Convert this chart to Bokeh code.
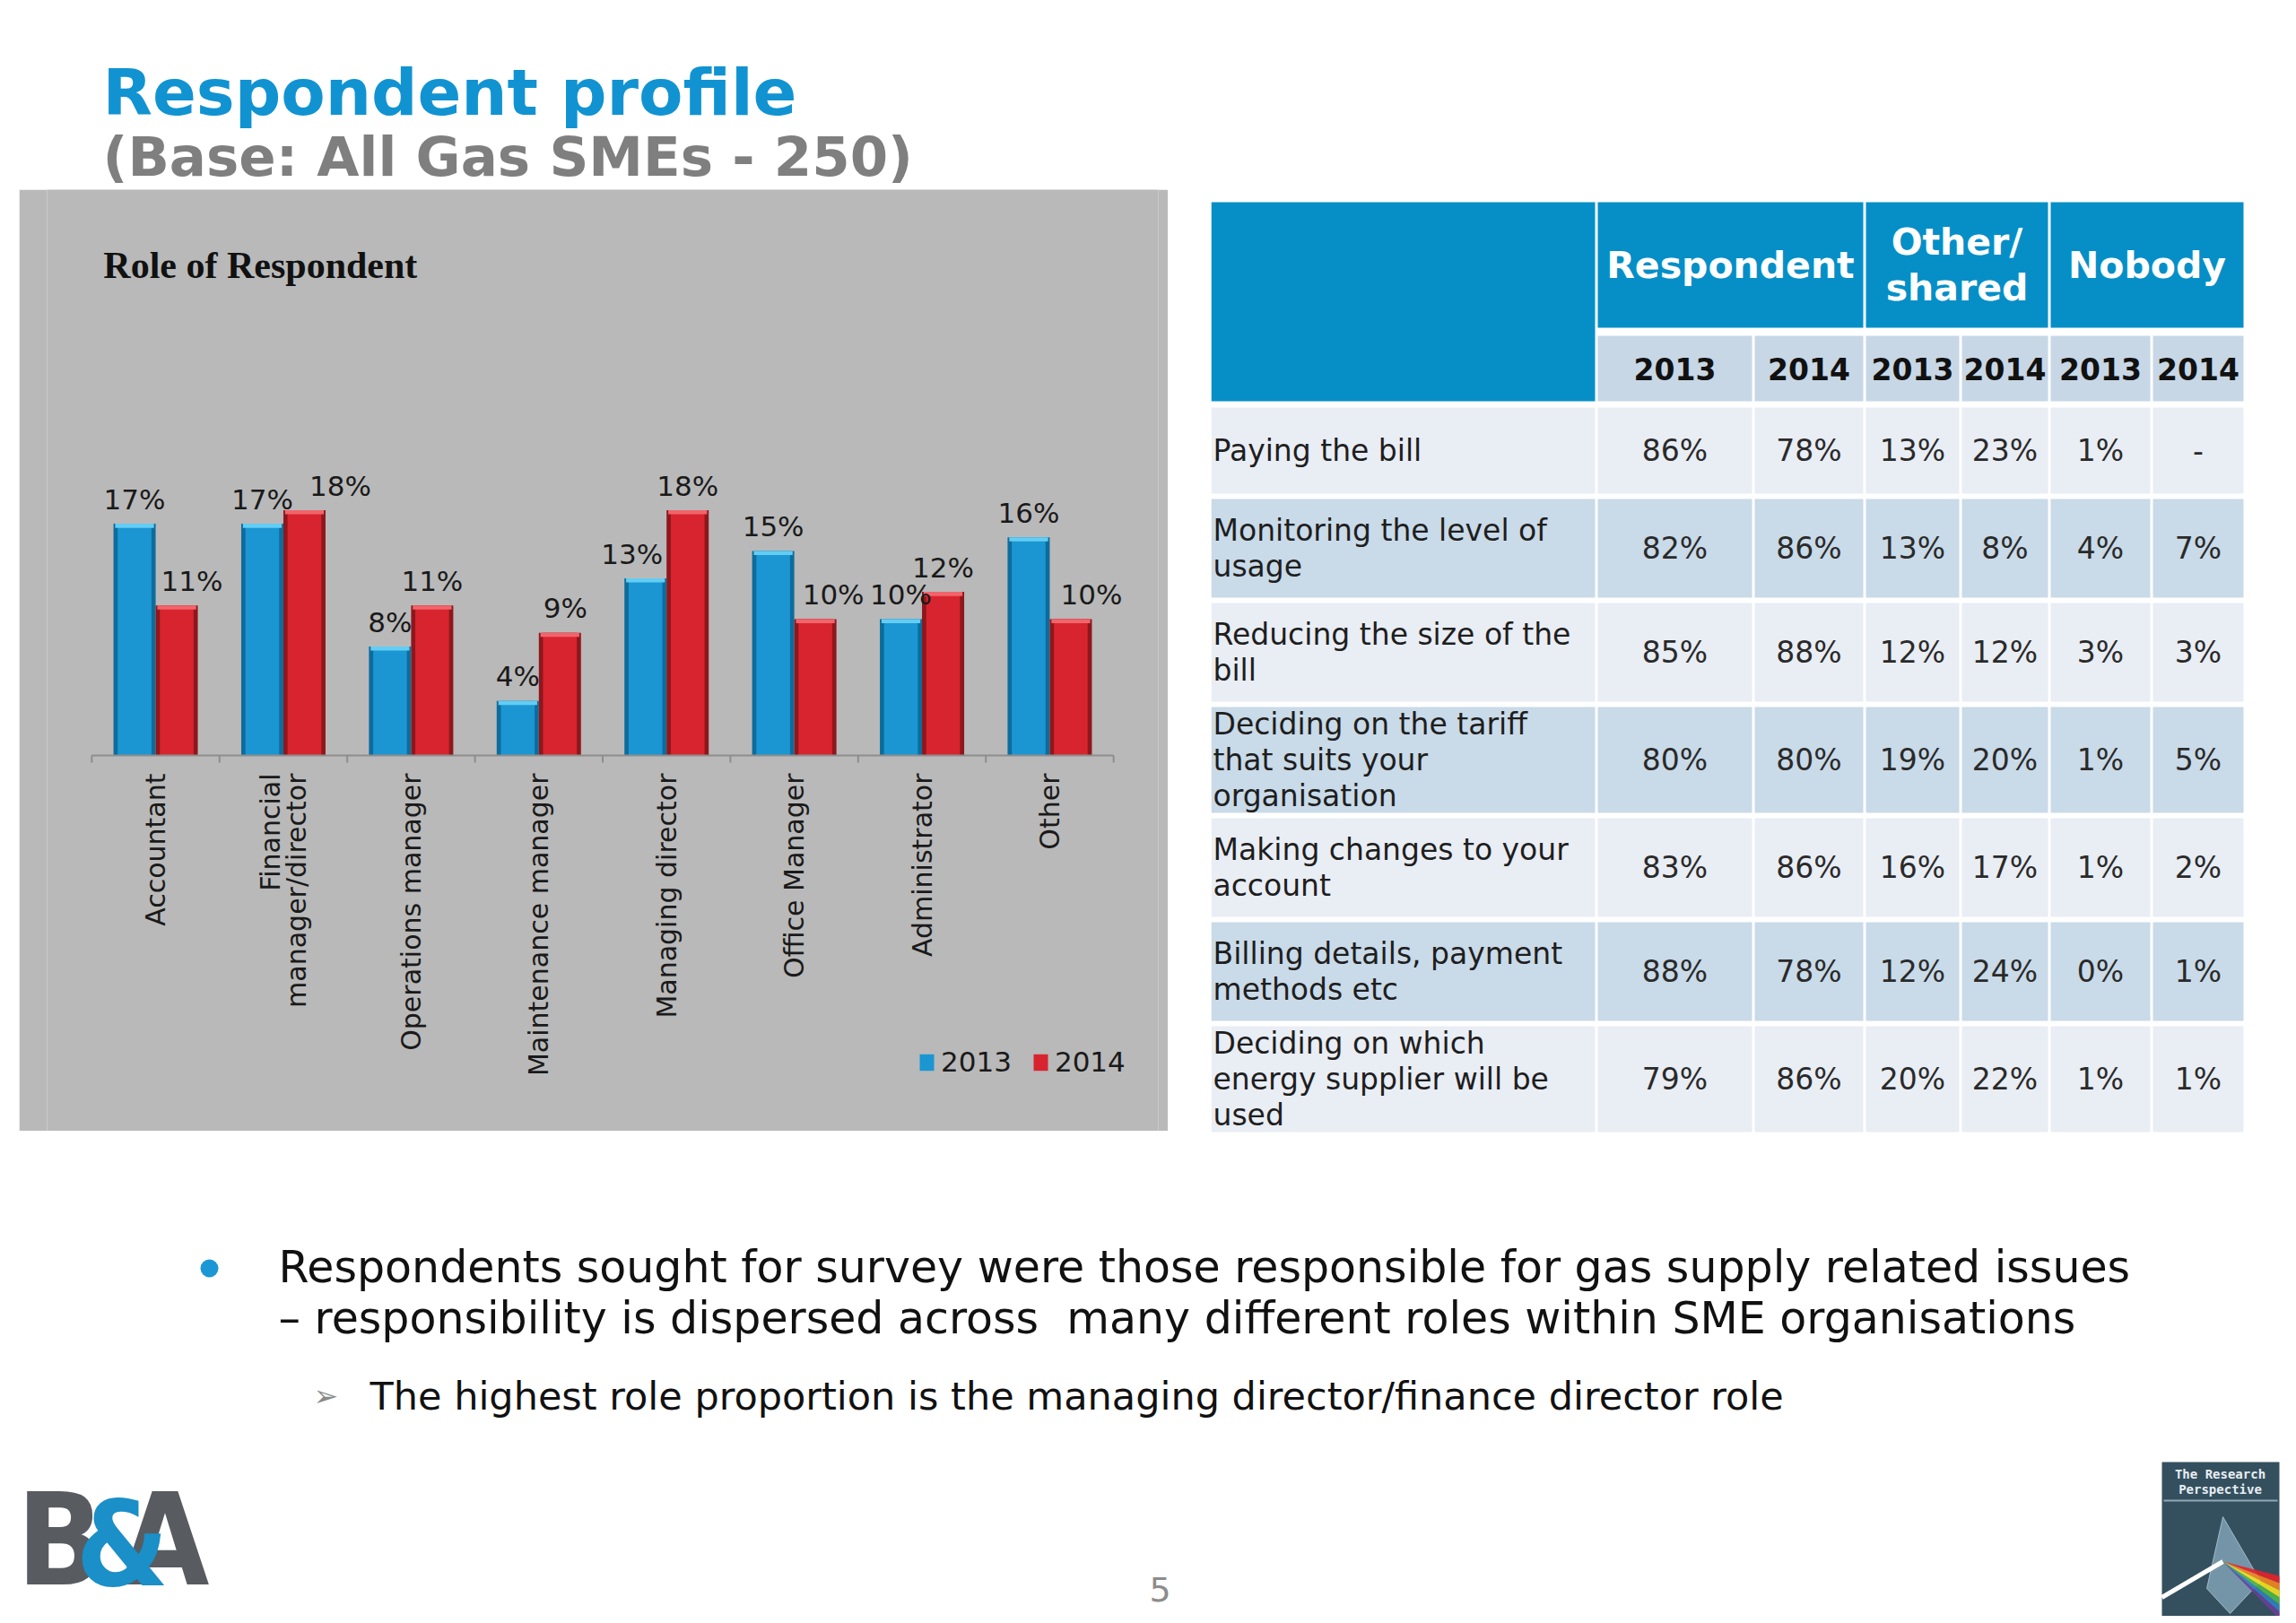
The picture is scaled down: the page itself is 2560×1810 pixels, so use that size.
from math import pi
import numpy as np
from bokeh.plotting import figure
from bokeh.models import (ColumnDataSource, Range1d, FactorRange, Legend, LegendItem, Spacer)
from bokeh.layouts import column, row
from bokeh.transform import dodge
from bokeh.core.properties import value
from bokeh.embed import file_html
from bokeh.resources import INLINE

# ---------------- data ----------------
roles = ["Accountant", "Financial\nmanager/director", "Operations manager",
         "Maintenance manager", "Managing director", "Office Manager",
         "Administrator", "Other"]
share_2013 = [17, 17, 8, 4, 13, 15, 10, 16]
share_2014 = [11, 18, 11, 9, 18, 10, 12, 10]
series_names = ["2013", "2014"]

table_rows = ["Paying the bill",
              "Monitoring the level of\nusage",
              "Reducing the size of the\nbill",
              "Deciding on the tariff\nthat suits your\norganisation",
              "Making changes to your\naccount",
              "Billing details, payment\nmethods etc",
              "Deciding on which\nenergy supplier will be\nused"]
table_groups = ["Respondent", "Other/\nshared", "Nobody"]
table_years = ["2013", "2014"]
respondent_2013 = ["86%", "82%", "85%", "80%", "83%", "88%", "79%"]
respondent_2014 = ["78%", "86%", "88%", "80%", "86%", "78%", "86%"]
other_2013 = ["13%", "13%", "12%", "19%", "16%", "12%", "20%"]
other_2014 = ["23%", "8%", "12%", "20%", "17%", "24%", "22%"]
nobody_2013 = ["1%", "4%", "3%", "1%", "1%", "0%", "1%"]
nobody_2014 = ["-", "7%", "3%", "5%", "2%", "1%", "1%"]

title_text = "Respondent profile"
subtitle_text = "(Base: All Gas SMEs - 250)"
chart_title = "Role of Respondent"
bullet_1 = "Respondents sought for survey were those responsible for gas supply related issues"
bullet_2 = "\u2013 responsibility is dispersed across\u00a0 many different roles within SME organisations"
sub_bullet = "The highest role proportion is the managing director/finance director role"
page_no = "5"

# label nudges (screen px) that the original chart used to avoid overlaps
nudge_2013 = [0, 0, 0, 0, -15, 0, 0, 0]
nudge_2014 = [17, 40, 0, 6, 0, 20, 0, 23]

# ---------------- styles ----------------
FONT = "DejaVu Sans"
BLUE = "#1b96d2"
BLUE_D = "#0d6c9c"
BLUE_L = "#63cdf3"
RED = "#d8242e"
RED_D = "#8e171d"
RED_L = "#f2646b"
PANEL = "#b9b9b9"
HEAD_BLUE = "#068fc7"
YEAR_BG = "#c7d7e6"
ROW_LIGHT = "#e9edf4"
ROW_DARK = "#c9dae8"

PAGE_W = 2552


def blank(w, h, **kw):
    f = figure(width=w, height=h, x_range=Range1d(0, w), y_range=Range1d(h, 0),
               x_axis_type=None, y_axis_type=None, output_backend="svg",
               toolbar_location=None, min_border=0, **kw)
    f.grid.visible = False
    f.outline_line_color = None
    return f


# ---------------- header ----------------
HH = 211
header = blank(PAGE_W, HH)
header.text(x=[114], y=[102], text=[title_text], text_font=value(FONT), text_font_style="bold",
            text_font_size="72px", text_color="#1193d2", text_baseline="middle")
header.text(x=[114], y=[174], text=[subtitle_text], text_font=value(FONT), text_font_style="bold",
            text_font_size="61px", text_color="#7f7f7f", text_baseline="middle")

# ---------------- bar chart ----------------
CW, CH = 1281, 1050
AXIS_PX = 631          # pixel row of the 0% line inside the panel
PX_PER_PCT = 15.2
cp = figure(width=CW, height=CH,
            x_range=FactorRange(factors=roles, range_padding=0.0875),
            y_range=Range1d(-(CH - AXIS_PX) / PX_PER_PCT, AXIS_PX / PX_PER_PCT),
            x_axis_type=None, y_axis_type=None,
            output_backend="svg", toolbar_location=None,
            min_border_left=31, min_border_right=11, min_border_top=0, min_border_bottom=0)
cp.background_fill_color = PANEL
cp.border_fill_color = PANEL
cp.outline_line_color = None
cp.grid.visible = False

src = ColumnDataSource(dict(
    role=roles, v13=share_2013, v14=share_2014,
    cap13=list(np.array(share_2013) - 0.3), cap14=list(np.array(share_2014) - 0.3),
    ly13=list(np.array(share_2013) + 1.8), ly14=list(np.array(share_2014) + 1.8),
    t13=[f"{v}%" for v in share_2013], t14=[f"{v}%" for v in share_2014],
    n13=nudge_2013, n14=nudge_2014,
))

D = 0.165
W = 0.33
x13 = dodge("role", -D, range=cp.x_range)
x14 = dodge("role", D, range=cp.x_range)
cp.vbar(x=x13, top="v13", bottom=0, width=W, fill_color=BLUE_D, line_color=None, source=src)
r13 = cp.vbar(x=x13, top="v13", bottom=0, width=W * 0.8, fill_color=BLUE, line_color=None, source=src)
cp.vbar(x=x13, top="v13", bottom="cap13", width=W * 0.92, fill_color=BLUE_L, line_color=None, source=src)
cp.vbar(x=x14, top="v14", bottom=0, width=W, fill_color=RED_D, line_color=None, source=src)
r14 = cp.vbar(x=x14, top="v14", bottom=0, width=W * 0.8, fill_color=RED, line_color=None, source=src)
cp.vbar(x=x14, top="v14", bottom="cap14", width=W * 0.92, fill_color=RED_L, line_color=None, source=src)

cp.text(x=x13, y="ly13", text="t13", x_offset="n13", source=src, text_font=value(FONT),
        text_font_size="31px", text_color="#1a1a1a", text_align="center", text_baseline="middle")
cp.text(x=x14, y="ly14", text="t14", x_offset="n14", source=src, text_font=value(FONT),
        text_font_size="31px", text_color="#1a1a1a", text_align="center", text_baseline="middle")

# category axis: base line, boundary ticks and vertical category labels
n_cat = len(roles)
edges = list(range(n_cat + 1))
cp.segment(x0=[0], y0=[0], x1=[n_cat], y1=[0], line_color="#8d8d8d", line_width=2)
cp.segment(x0=edges, y0=[0] * len(edges), x1=edges, y1=[-8 / PX_PER_PCT] * len(edges),
           line_color="#8d8d8d", line_width=2)
cp.text(x=roles, y=[-20 / PX_PER_PCT] * n_cat, text=roles, angle=pi / 2,
        text_font=value(FONT), text_font_size="30px", text_color="#1a1a1a",
        text_align="right", text_baseline="middle", text_line_height=0.84)

# chart title
cp.text(x=[13 / 142.4], y=[(AXIS_PX - 84) / PX_PER_PCT], text=[chart_title],
        text_font=value("Liberation Serif"), text_font_style="bold", text_font_size="42px",
        text_color="#111111", text_align="left", text_baseline="middle")

legend = Legend(items=[LegendItem(label=series_names[0], renderers=[r13]),
                       LegendItem(label=series_names[1], renderers=[r14])],
                orientation="horizontal", location=(971, 59), glyph_width=20, glyph_height=23,
                label_standoff=6, spacing=22, padding=0, margin=0,
                background_fill_alpha=0, border_line_color=None,
                label_text_font=FONT, label_text_font_size="31px", label_text_color="#1a1a1a",
                label_height=23)
cp.add_layout(legend)

# ---------------- table ----------------
TW, TH = 1202, 1060
tp = blank(TW, TH)

col_x = [0, 428, 603, 727, 834, 933, 1047, 1151]
GAP = 3
HEAD_TOP, HEAD_BOT = 14, 154
YEAR_TOP, YEAR_BOT = 163, 236

hl, hr, ht, hb = [0], [col_x[1]], [HEAD_TOP], [YEAR_BOT]
group_cols = [(1, 3), (3, 5), (5, 7)]
for a, b in group_cols:
    hl.append(col_x[a] + GAP); hr.append(col_x[b]); ht.append(HEAD_TOP); hb.append(HEAD_BOT)
tp.quad(left=hl, right=hr, top=ht, bottom=hb, fill_color=HEAD_BLUE, line_color=None)
yl = [col_x[c] + GAP for c in range(1, 7)]
yr = [col_x[c + 1] for c in range(1, 7)]
tp.quad(left=yl, right=yr, top=[YEAR_TOP] * 6, bottom=[YEAR_BOT] * 6, fill_color=YEAR_BG, line_color=None)

gx = [(col_x[a] + GAP + col_x[b]) / 2 for a, b in group_cols]
tp.text(x=gx, y=[(HEAD_TOP + HEAD_BOT) / 2] * 3, text=table_groups, text_font=value(FONT),
        text_font_style="bold", text_font_size="41px", text_color="white", text_align="center",
        text_baseline="middle", text_line_height=1.07)
ycx = [(l + r) / 2 for l, r in zip(yl, yr)]
tp.text(x=ycx, y=[(YEAR_TOP + YEAR_BOT) / 2] * 6, text=table_years * 3, text_font=value(FONT),
        text_font_style="bold", text_font_size="33px", text_color="#111111", text_align="center",
        text_baseline="middle")

n_lines = [lbl.count("\n") + 1 for lbl in table_rows]
row_h = {1: 96, 2: 110, 3: 118}
ROW_GAP = 6
y = 243
r_top, r_bot = [], []
for n in n_lines:
    r_top.append(y); r_bot.append(y + row_h[n]); y += row_h[n] + ROW_GAP

cl, cr, ct, cb, cc = [], [], [], [], []
for i in range(len(table_rows)):
    colr = ROW_LIGHT if i % 2 == 0 else ROW_DARK
    for c in range(7):
        cl.append(col_x[c] + (GAP if c > 0 else 0)); cr.append(col_x[c + 1])
        ct.append(r_top[i]); cb.append(r_bot[i]); cc.append(colr)
tp.quad(left=cl, right=cr, top=ct, bottom=cb, fill_color=cc, line_color=None)

r_mid = [(a + b) / 2 for a, b in zip(r_top, r_bot)]
tp.text(x=[2] * len(table_rows), y=r_mid, text=table_rows, text_font=value(FONT),
        text_font_size="33px", text_color="#1e1e1e", text_align="left", text_baseline="middle",
        text_line_height=1.02)
value_cols = [respondent_2013, respondent_2014, other_2013, other_2014, nobody_2013, nobody_2014]
vx, vy, vt = [], [], []
for c, vals in enumerate(value_cols):
    for i, v in enumerate(vals):
        vx.append(ycx[c]); vy.append(r_mid[i]); vt.append(v)
tp.text(x=vx, y=vy, text=vt, text_font=value(FONT), text_font_size="33px", text_color="#2a2a2a",
        text_align="center", text_baseline="middle")

# ---------------- bottom ----------------
BH = 531
bt = blank(PAGE_W, BH)
bt.scatter(x=[233], y=[143], size=20, fill_color="#1b97d6", line_color=None)
bt.text(x=[310, 310], y=[142, 199], text=[bullet_1, bullet_2], text_font=value(FONT),
        text_font_size="49px", text_color="#111111", text_baseline="middle")
bt.text(x=[349], y=[285], text=["\u27a2"], text_font=value(FONT), text_font_size="33px",
        text_color="#8a8a8a", text_baseline="middle")
bt.text(x=[412], y=[285], text=[sub_bullet], text_font=value(FONT), text_font_size="43px",
        text_color="#111111", text_baseline="middle")
bt.text(x=[1293], y=[501], text=[page_no], text_font=value(FONT), text_font_size="38px",
        text_color="#8c8c8c", text_align="center", text_baseline="middle")

# B&A logo
LOGO_FONT = value("DejaVu Sans Condensed")
bt.text(x=[18], y=[446], text=["B"], text_font=LOGO_FONT, text_font_style="bold",
        text_font_size="142px", text_color="#585c60", text_baseline="middle")
bt.text(x=[134], y=[446], text=["A"], text_font=LOGO_FONT, text_font_style="bold",
        text_font_size="142px", text_color="#585c60", text_baseline="middle")
bt.text(x=[84], y=[450], text=["&"], text_font=LOGO_FONT, text_font_style="bold",
        text_font_size="132px", text_color="#1a8fc8", text_baseline="middle")

# Research Perspective logo
bt.quad(left=[2410], right=[2541], top=[359], bottom=[531], fill_color="#34505f", line_color=None)
bt.text(x=[2475, 2475], y=[372, 389], text=["The Research", "Perspective"],
        text_font=value("DejaVu Sans Mono"), text_font_style="bold", text_font_size="14px",
        text_color="#e8eef2", text_align="center", text_baseline="middle")
bt.segment(x0=[2412], y0=[402], x1=[2539], y1=[402], line_color="#8fa8b6", line_width=2)
bt.patch(x=[2478, 2460, 2486, 2520], y=[420, 500, 528, 492], fill_color="#a9cde2", fill_alpha=0.55,
         line_color="#cfe4ef", line_alpha=0.6)
bt.segment(x0=[2410], y0=[510], x1=[2478], y1=[470], line_color="white", line_width=5)
rainbow = ["#e8202a", "#f5841f", "#f7e11c", "#4cb848", "#2f7fc1", "#6a3d99"]
for k, ccol in enumerate(rainbow):
    bt.patch(x=[2478, 2541, 2541], y=[470, 486 + k * 8, 494 + k * 8], fill_color=ccol,
             line_color=None, fill_alpha=0.9)

# ---------------- layout ----------------
mid = row(Spacer(width=21, height=CH), cp, Spacer(width=48, height=TH), tp)
page = column(header, mid, bt)

open("out.html", "w").write(file_html(page, INLINE))
